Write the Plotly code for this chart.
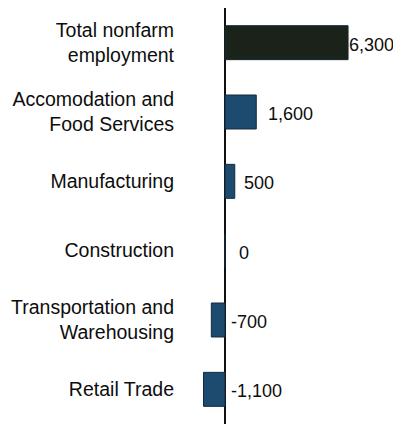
import plotly.graph_objects as go

# sectors, top to bottom as in the chart
sectors = [
    "Total nonfarm<br>employment",
    "Accomodation and<br>Food Services",
    "Manufacturing",
    "Construction",
    "Transportation and<br>Warehousing",
    "Retail Trade",
]
change = [6300, 1600, 500, 0, -700, -1100]
value_text = ["6,300", "1,600", "500", "0", "-700", "-1,100"]

bar_colors = ["#1b2219", "#1d4b70", "#1d4b70", "#1d4b70", "#1d4b70", "#1d4b70"]
# pixel gap between the bar end (or the axis) and its value label
label_shift = [0, 11, 8, 13, 5, 5]

fig = go.Figure()
fig.add_bar(
    x=change, y=sectors, orientation="h",
    marker_color=bar_colors,
    marker_line_color="#13293b", marker_line_width=1,
    hoverinfo="skip",
)

for s, v, t, dx in zip(sectors, change, value_text, label_shift):
    fig.add_annotation(
        x=max(v, 0), y=s, text=t, showarrow=False,
        xanchor="left", xshift=dx, yshift=-2, borderpad=0,
        font=dict(family="Liberation Sans, Arial", size=18, color="#0d0d0d"),
    )

# the page body adds an 8px margin, so the figure is 8px smaller than the window
fig.update_layout(
    width=393, height=416,
    margin=dict(l=187, r=0, t=0, b=0),
    paper_bgcolor="white", plot_bgcolor="white",
    bargap=0.51, showlegend=False,
    font=dict(family="Liberation Sans, Arial", size=19.5, color="#0d0d0d"),
)
fig.update_xaxes(
    range=[-1536, 9011], showgrid=False, showticklabels=False, ticks="",
    zeroline=True, zerolinecolor="#111111", zerolinewidth=2,
)
fig.update_yaxes(
    categoryorder="array", categoryarray=sectors[::-1],
    showgrid=False, ticks="", ticklabelstandoff=20,
    showline=False, zeroline=False,
)

fig.write_html("out.html")
